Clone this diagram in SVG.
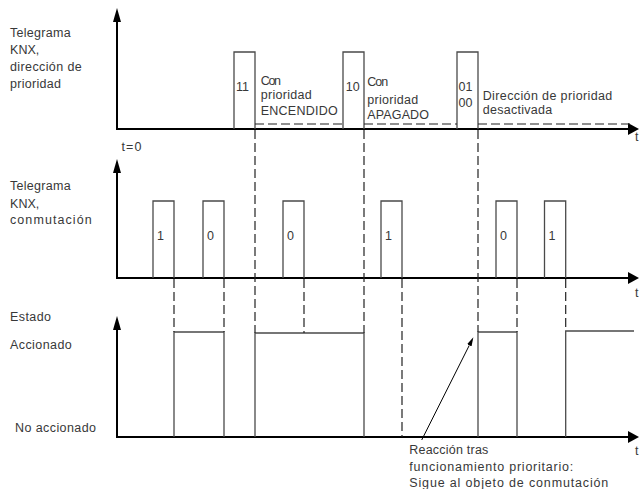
<svg xmlns="http://www.w3.org/2000/svg" width="640" height="489" viewBox="0 0 640 489">
<style>
text{font-family:"Liberation Sans",Arial,sans-serif;font-size:12.5px;fill:#383838}
.axis{stroke:#000;stroke-width:2;fill:none}
.pulse{stroke:#4a4a4a;stroke-width:1.3;fill:none}
.dash{stroke:#222;stroke-width:1.2;fill:none;stroke-dasharray:9 4}
.ptr{stroke:#000;stroke-width:1;fill:none}
.mid{text-anchor:middle}
</style>
<defs>
<marker id="ahv" viewBox="0 0 14 8" refX="0" refY="4" markerWidth="14" markerHeight="8" markerUnits="userSpaceOnUse" orient="auto"><path d="M0,0 L14,4 L0,8 z" fill="#000"/></marker>
<marker id="ahh" viewBox="0 0 11 12" refX="0" refY="6" markerWidth="11" markerHeight="12" markerUnits="userSpaceOnUse" orient="auto"><path d="M0,0 L11,6 L0,12 z" fill="#000"/></marker>
<marker id="ahs" viewBox="0 0 9 5" refX="0" refY="2.5" markerWidth="9" markerHeight="5" markerUnits="userSpaceOnUse" orient="auto"><path d="M0,0 L9,2.5 L0,5 z" fill="#000"/></marker>
</defs>

<g id="chart-priority">
<line class="axis" x1="117" y1="129" x2="117" y2="22" marker-end="url(#ahv)"/>
<line class="axis" x1="116" y1="129" x2="628" y2="129" marker-end="url(#ahh)"/>
<text x="10" y="36.5" textLength="60.7" lengthAdjust="spacing">Telegrama</text>
<text x="10" y="53.5" textLength="29.3" lengthAdjust="spacing">KNX,</text>
<text x="10" y="71" textLength="71.7" lengthAdjust="spacing">dirección de</text>
<text x="10" y="88.3" textLength="51" lengthAdjust="spacing">prioridad</text>
<text x="121.5" y="151" textLength="20" lengthAdjust="spacing">t=0</text>
<text x="635" y="141">t</text>
<g id="prio-11">
<polyline class="pulse" points="234,129 234,52 255,52 255,129"/>
<text class="mid" x="242.5" y="91">11</text>
</g>
<g id="prio-10">
<polyline class="pulse" points="343,129 343,52 364,52 364,129"/>
<text class="mid" x="352.8" y="91.3">10</text>
</g>
<g id="prio-01-00">
<polyline class="pulse" points="457,129 457,52 478,52 478,129"/>
<text class="mid" x="465.5" y="91">01</text>
<text class="mid" x="465.5" y="106.8">00</text>
</g>
<g id="label-encendido">
<text x="260.7" y="85.3" textLength="20.3" lengthAdjust="spacing">Con</text>
<text x="260.7" y="98.7" textLength="51" lengthAdjust="spacing">prioridad</text>
<text x="260.7" y="115" textLength="77" lengthAdjust="spacing">ENCENDIDO</text>
</g>
<g id="label-apagado">
<text x="367.3" y="86" textLength="21" lengthAdjust="spacing">Con</text>
<text x="367.3" y="104" textLength="51" lengthAdjust="spacing">prioridad</text>
<text x="367.3" y="118.7" textLength="61.7" lengthAdjust="spacing">APAGADO</text>
</g>
<g id="label-desactivada">
<text x="482.7" y="99.5" textLength="129.6" lengthAdjust="spacing">Dirección de prioridad</text>
<text x="482.7" y="114" textLength="69.6" lengthAdjust="spacing">desactivada</text>
</g>
</g>

<g id="chart-switching">
<line class="axis" x1="117" y1="278" x2="117" y2="173" marker-end="url(#ahv)"/>
<line class="axis" x1="116" y1="278" x2="628" y2="278" marker-end="url(#ahh)"/>
<text x="10" y="190" textLength="60.7" lengthAdjust="spacing">Telegrama</text>
<text x="10" y="207.5" textLength="29.3" lengthAdjust="spacing">KNX,</text>
<text x="10" y="224" textLength="81.7" lengthAdjust="spacing">conmutación</text>
<text x="635" y="297">t</text>
<g id="sw-1a"><polyline class="pulse" points="153,278 153,201 174,201 174,278"/><text class="mid" x="160.5" y="240">1</text></g>
<g id="sw-0a"><polyline class="pulse" points="203,278 203,201 224,201 224,278"/><text class="mid" x="210.5" y="240">0</text></g>
<g id="sw-0b"><polyline class="pulse" points="283,278 283,201 304,201 304,278"/><text class="mid" x="290.5" y="240">0</text></g>
<g id="sw-1b"><polyline class="pulse" points="381,278 381,201 402,201 402,278"/><text class="mid" x="388.5" y="240">1</text></g>
<g id="sw-0c"><polyline class="pulse" points="496,278 496,201 517,201 517,278"/><text class="mid" x="503.5" y="240">0</text></g>
<g id="sw-1c"><polyline class="pulse" points="544.5,278 544.5,201 565.7,201 565.7,278"/><text class="mid" x="552" y="240">1</text></g>
</g>

<g id="chart-state">
<line class="axis" x1="117" y1="437" x2="117" y2="330" marker-end="url(#ahv)"/>
<line class="axis" x1="116" y1="437" x2="628" y2="437" marker-end="url(#ahh)"/>
<text x="10" y="320.5" textLength="41" lengthAdjust="spacing">Estado</text>
<text x="10" y="349" textLength="61.7" lengthAdjust="spacing">Accionado</text>
<text x="15" y="432" textLength="81" lengthAdjust="spacing">No accionado</text>
<text x="635" y="455">t</text>
<polyline class="pulse" points="174,437 174,332 224,332 224,437"/>
<polyline class="pulse" points="255,437 255,333 364,333 364,437"/>
<polyline class="pulse" points="478,437 478,332 517,332 517,437"/>
<polyline class="pulse" points="565.7,437 565.7,331 634,331"/>
</g>

<g id="connectors">
<line class="dash" x1="255" y1="124" x2="343" y2="124"/>
<line class="dash" x1="364" y1="124" x2="457" y2="124"/>
<line class="dash" x1="478" y1="124" x2="630" y2="124"/>
<line class="dash" x1="174" y1="279" x2="174" y2="332"/>
<line class="dash" x1="224" y1="279" x2="224" y2="332"/>
<line class="dash" x1="255" y1="130" x2="255" y2="333"/>
<line class="dash" x1="304" y1="279" x2="304" y2="333"/>
<line class="dash" x1="364" y1="130" x2="364" y2="333"/>
<line class="dash" x1="402" y1="279" x2="402" y2="437"/>
<line class="dash" x1="478" y1="130" x2="478" y2="332"/>
<line class="dash" x1="517" y1="279" x2="517" y2="332"/>
<line class="dash" x1="565.7" y1="279" x2="565.7" y2="331"/>
<line class="ptr" x1="421.7" y1="440" x2="469.3" y2="345.3" marker-end="url(#ahs)"/>
</g>

<g id="annotation">
<text x="409.3" y="454" textLength="79" lengthAdjust="spacing">Reacción tras</text>
<text x="409.3" y="470.5" textLength="164" lengthAdjust="spacing">funcionamiento prioritario:</text>
<text x="409.3" y="487" textLength="199" lengthAdjust="spacing">Sigue al objeto de conmutación</text>
</g>
</svg>
